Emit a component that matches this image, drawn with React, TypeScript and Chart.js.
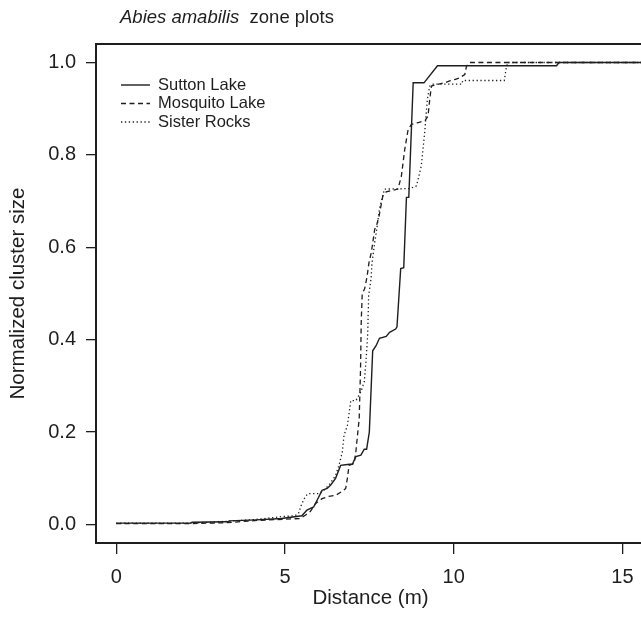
import { useEffect, useRef } from "react";
import { Chart, registerables } from "chart.js";

Chart.register(...registerables);

// ---- Data ----
const seriesNames = ["Sutton Lake", "Mosquito Lake", "Sister Rocks"];

const suttonX = [0, 2.2, 2.25, 3.3, 3.35, 4.15, 4.9, 5.5, 5.65, 5.85, 5.9, 6.1, 6.25, 6.35, 6.5, 6.65, 6.85, 7.0, 7.1, 7.25, 7.35, 7.42, 7.5, 7.6, 7.7, 7.8, 8.0, 8.1, 8.28, 8.32, 8.43, 8.52, 8.6, 8.67, 8.8, 9.12, 9.52, 13.05, 13.12, 15.6];
const suttonY = [0.003, 0.003, 0.005, 0.006, 0.008, 0.01, 0.013, 0.019, 0.031, 0.038, 0.045, 0.074, 0.078, 0.085, 0.1, 0.128, 0.13, 0.131, 0.147, 0.15, 0.163, 0.163, 0.2, 0.376, 0.387, 0.403, 0.407, 0.416, 0.423, 0.428, 0.554, 0.556, 0.708, 0.708, 0.956, 0.956, 0.993, 0.993, 1.0, 1.0];

const mosquitoX = [0, 2.2, 3.3, 4.2, 5.45, 5.6, 5.75, 5.9, 6.1, 6.3, 6.5, 6.7, 6.8, 6.85, 6.9, 7.05, 7.1, 7.15, 7.2, 7.24, 7.26, 7.29, 7.36, 7.43, 7.49, 7.56, 7.66, 7.71, 7.79, 7.9, 8.0, 8.35, 8.45, 8.55, 8.65, 8.75, 8.95, 9.15, 9.24, 9.29, 9.34, 9.49, 9.73, 9.88, 10.03, 10.18, 10.33, 10.38, 10.48, 15.6];
const mosquitoY = [0.002, 0.002, 0.004, 0.009, 0.013, 0.02, 0.028, 0.045, 0.056, 0.061, 0.063, 0.072, 0.078, 0.1, 0.128, 0.132, 0.157, 0.193, 0.229, 0.337, 0.438, 0.5, 0.51, 0.535, 0.567, 0.589, 0.639, 0.646, 0.668, 0.711, 0.72, 0.726, 0.754, 0.812, 0.855, 0.866, 0.87, 0.874, 0.884, 0.92, 0.949, 0.952, 0.956, 0.96, 0.963, 0.967, 0.974, 0.992, 1.0, 1.0];

const sisterX = [0, 2.2, 3.3, 4.15, 4.9, 5.3, 5.4, 5.5, 5.6, 5.68, 6.0, 6.15, 6.3, 6.5, 6.6, 6.7, 6.75, 6.85, 6.95, 7.1, 7.25, 7.35, 7.4, 7.45, 7.48, 7.55, 7.58, 7.66, 7.72, 7.8, 7.95, 8.7, 8.9, 9.04, 9.14, 9.22, 9.29, 9.39, 10.24, 10.27, 11.5, 11.55, 11.6, 15.6];
const sisterY = [0.003, 0.003, 0.007, 0.011, 0.017, 0.019, 0.024, 0.045, 0.06, 0.067, 0.067, 0.074, 0.085, 0.106, 0.128, 0.157, 0.193, 0.214, 0.268, 0.268, 0.287, 0.309, 0.352, 0.409, 0.495, 0.531, 0.567, 0.61, 0.639, 0.683, 0.726, 0.727, 0.733, 0.776, 0.848, 0.92, 0.949, 0.953, 0.953, 0.961, 0.961, 0.985, 1.0, 1.0];

const xTicks = [0, 5, 10, 15];
const yTicks = [0, 0.2, 0.4, 0.6, 0.8, 1.0];

const titleItalic = "Abies amabilis";
const titleRest = "  zone plots";
const xTitle = "Distance (m)";
const yTitle = "Normalized cluster size";

// ---- Styling ----
const INK = "#1e1e1e";
const FONT = "'Liberation Sans', Arial, Helvetica, sans-serif";
const CANVAS_W = 700;
const CANVAS_H = 617;
const dashes: number[][] = [[], [5, 3.5], [1.3, 2.6]];
const widths = [1.4, 1.3, 1.3];

const zip = (xs: number[], ys: number[]) => xs.map((x, i) => ({ x, y: ys[i] }));

const extrasPlugin = {
  id: "rExtras",
  afterDraw(chart: any) {
    const { ctx, chartArea } = chart;
    ctx.save();
    // plot box
    ctx.strokeStyle = INK;
    ctx.lineWidth = 2;
    ctx.setLineDash([]);
    ctx.strokeRect(chartArea.left, chartArea.top, chartArea.right - chartArea.left, chartArea.bottom - chartArea.top);

    // title with italic species name
    ctx.fillStyle = INK;
    ctx.textBaseline = "middle";
    ctx.textAlign = "left";
    ctx.font = `italic 18.5px ${FONT}`;
    const tx = 120;
    const ty = 18;
    ctx.fillText(titleItalic, tx, ty);
    const w = ctx.measureText(titleItalic).width;
    ctx.font = `18.5px ${FONT}`;
    ctx.fillText(titleRest, tx + w, ty);

    // legend
    const rows = [85, 103.5, 122];
    chart.data.datasets.forEach((ds: any, i: number) => {
      ctx.beginPath();
      ctx.strokeStyle = INK;
      ctx.lineWidth = widths[i];
      ctx.setLineDash(dashes[i]);
      ctx.moveTo(121, rows[i]);
      ctx.lineTo(150, rows[i]);
      ctx.stroke();
      ctx.setLineDash([]);
      ctx.font = `16.5px ${FONT}`;
      ctx.fillText(ds.label, 158, rows[i]);
    });
    ctx.restore();
  },
};

export default function App() {
  const ref = useRef<HTMLCanvasElement>(null);

  useEffect(() => {
    if (!ref.current) return;
    const chart = new Chart(ref.current, {
      type: "line",
      data: {
        datasets: [
          { label: seriesNames[0], data: zip(suttonX, suttonY) },
          { label: seriesNames[1], data: zip(mosquitoX, mosquitoY) },
          { label: seriesNames[2], data: zip(sisterX, sisterY) },
        ].map((d, i) => ({
          ...d,
          borderColor: INK,
          borderWidth: widths[i],
          borderDash: dashes[i],
          pointRadius: 0,
          tension: 0,
          fill: false,
        })),
      },
      options: {
        responsive: false,
        animation: false,
        layout: { padding: { top: 44, right: CANVAS_W - 645, left: 0, bottom: 0 } },
        plugins: {
          legend: { display: false },
          tooltip: { enabled: false },
          title: { display: false },
        },
        scales: {
          x: {
            type: "linear",
            min: -0.6,
            max: 15.67,
            afterBuildTicks: (s: any) => {
              s.ticks = xTicks.map((v) => ({ value: v }));
            },
            afterFit: (s: any) => {
              s.height = 74;
            },
            ticks: {
              color: INK,
              font: { family: FONT, size: 20, lineHeight: 1.2 },
              padding: 11,
              maxRotation: 0,
              autoSkip: false,
              callback: (v: any) => String(v),
            },
            grid: { drawOnChartArea: false, drawTicks: true, tickLength: 11, color: INK, lineWidth: 1.3 },
            border: { display: false },
            title: {
              display: true,
              text: xTitle,
              color: INK,
              font: { family: FONT, size: 20.5, lineHeight: 1.2 },
              padding: { top: 0, bottom: 6 },
            },
          },
          y: {
            type: "linear",
            min: -0.04,
            max: 1.04,
            afterBuildTicks: (s: any) => {
              s.ticks = yTicks.map((v) => ({ value: v }));
            },
            afterFit: (s: any) => {
              s.width = 96;
            },
            ticks: {
              color: INK,
              font: { family: FONT, size: 20, lineHeight: 1.2 },
              padding: 10,
              autoSkip: false,
              callback: (v: any) => Number(v).toFixed(1),
            },
            grid: { drawOnChartArea: false, drawTicks: true, tickLength: 10, color: INK, lineWidth: 1.3 },
            border: { display: false },
            title: {
              display: true,
              text: yTitle,
              color: INK,
              font: { family: FONT, size: 20.5, lineHeight: 1.2 },
              padding: { top: 6, bottom: 0 },
            },
          },
        },
      },
      plugins: [extrasPlugin],
    });
    return () => chart.destroy();
  }, []);

  return (
    <div style={{ position: "absolute", left: 0, top: 0, width: 641, height: 617, overflow: "hidden", background: "#fff" }}>
      <canvas ref={ref} width={CANVAS_W} height={CANVAS_H} style={{ display: "block", width: CANVAS_W, height: CANVAS_H }} />
    </div>
  );
}
